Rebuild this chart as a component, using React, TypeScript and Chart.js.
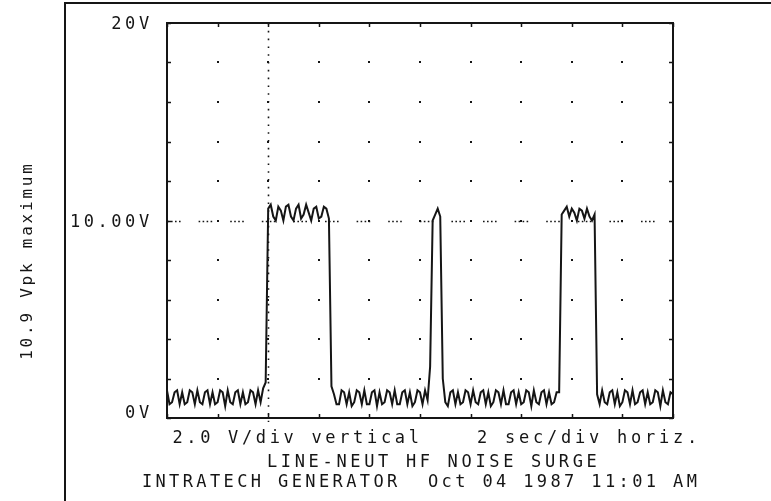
import React, { useEffect, useRef } from "react";
import { Chart, registerables } from "chart.js";

Chart.register(...registerables);

// ---- data -------------------------------------------------------------
const SAMPLE_STEP_SEC = 0.1; // one reading every 0.1 s, from 0 s to 20 s

// volts, one per sample (201 readings)
const volts: number[] = [
  // 0.0 – 3.9 s : noise floor
  1.4, 0.7, 0.8, 1.3, 1.4, 0.7, 1.3, 0.7, 0.8, 1.4,
  1.3, 0.7, 1.4, 0.8, 0.7, 1.3, 1.4, 0.7, 1.3, 0.7,
  0.8, 1.4, 1.3, 0.6, 1.4, 0.8, 0.7, 1.3, 1.4, 0.7,
  1.3, 0.7, 0.8, 1.4, 1.3, 0.7, 1.4, 0.8, 1.5, 1.8,
  // 4.0 – 6.4 s : first surge
  10.6, 10.8, 10.2, 10.0, 10.7, 10.5, 10.0, 10.7, 10.8, 10.2,
  10.0, 10.6, 10.8, 10.1, 10.3, 10.8, 10.4, 10.0, 10.6, 10.7,
  10.1, 10.2, 10.7, 10.6, 10.1,
  // 6.5 s
  1.6,
  // 6.6 – 10.3 s : noise floor
  1.2, 0.7, 0.7, 1.4, 1.3, 0.7, 1.3, 0.6, 0.8, 1.4,
  1.3, 0.7, 1.4, 0.7, 0.7, 1.3, 1.4, 0.6, 1.3, 0.7,
  0.8, 1.4, 1.3, 0.7, 1.4, 0.7, 0.7, 1.3, 1.4, 0.7,
  1.3, 0.6, 0.8, 1.4, 1.3, 0.7, 1.4, 0.9,
  // 10.4 – 10.9 s : short spike
  2.6, 10.0, 10.3, 10.6, 10.2, 2.0,
  // 11.0 – 15.4 s : noise floor
  0.8, 0.6, 1.3, 1.4, 0.7, 1.3, 0.7, 0.8, 1.4, 1.3,
  0.7, 1.4, 0.8, 0.7, 1.3, 1.4, 0.7, 1.3, 0.6, 0.8,
  1.4, 1.3, 0.7, 1.4, 0.7, 0.7, 1.3, 1.4, 0.7, 1.3,
  0.7, 0.8, 1.4, 1.3, 0.6, 1.4, 0.8, 0.7, 1.3, 1.4,
  0.7, 1.3, 0.7, 0.8, 1.3,
  // 15.5 s
  1.3,
  // 15.6 – 16.9 s : second surge
  10.3, 10.5, 10.7, 10.2, 10.6, 10.4, 10.0, 10.6, 10.5, 10.1,
  10.6, 10.2, 10.0, 10.3,
  // 17.0 s
  1.2,
  // 17.1 – 20.0 s : noise floor
  0.7, 1.4, 0.8, 0.7, 1.3, 1.4, 0.7, 1.3, 0.6, 0.8,
  1.4, 1.3, 0.7, 1.4, 0.7, 0.8, 1.3, 1.4, 0.7, 1.3,
  0.7, 0.8, 1.4, 1.3, 0.6, 1.4, 0.8, 0.7, 1.3, 1.2,
];

const timeDivisions = [0, 2, 4, 6, 8, 10, 12, 14, 16, 18, 20]; // seconds
const voltDivisions = [0, 2, 4, 6, 8, 10, 12, 14, 16, 18, 20]; // volts
const yTickLabels = [
  { value: 20, text: "20V" },
  { value: 10, text: "10.00V" },
  { value: 0, text: "0V" },
];
const triggerTime = 4; // dotted vertical marker
const referenceLevel = 10; // dotted horizontal marker

const sideTitle = "10.9 Vpk maximum";
const scaleNoteLeft = "2.0 V/div vertical";
const scaleNoteRight = "2 sec/div horiz.";
const titleLine1 = "LINE-NEUT HF NOISE SURGE";
const titleLine2 = "INTRATECH GENERATOR  Oct 04 1987 11:01 AM";

// ---- drawing ----------------------------------------------------------
const INK = "#151515";
const MONO = "'DejaVu Sans Mono', monospace";

function spaced(
  ctx: CanvasRenderingContext2D,
  text: string,
  firstCx: number,
  baseline: number,
  pitch: number
) {
  ctx.textAlign = "center";
  ctx.textBaseline = "alphabetic";
  for (let i = 0; i < text.length; i++) {
    if (text[i] !== " ") ctx.fillText(text[i], firstCx + i * pitch, baseline);
  }
}

const scopePlugin = {
  id: "scopePlugin",
  beforeDatasetsDraw(chart: any) {
    const { ctx, chartArea: a, scales } = chart;
    const x = scales.x;
    const y = scales.y;
    ctx.save();
    ctx.fillStyle = INK;
    for (const t of timeDivisions) {
      for (const v of voltDivisions) {
        const px = Math.round(x.getPixelForValue(t));
        const py = Math.round(y.getPixelForValue(v));
        ctx.fillRect(px - 1, py - 1, 2, 2);
      }
    }
    ctx.strokeStyle = INK;
    ctx.lineWidth = 1.6;
    // reference level dotted line
    const ry = Math.round(y.getPixelForValue(referenceLevel)) + 0.5;
    ctx.setLineDash([1.6, 2.4, 1.6, 2.4, 1.6, 2.4, 1.6, 18]);
    ctx.beginPath();
    ctx.moveTo(a.left, ry);
    ctx.lineTo(a.right, ry);
    ctx.stroke();
    // trigger dotted line
    const tx = Math.round(x.getPixelForValue(triggerTime)) + 0.5;
    ctx.setLineDash([1.6, 6.2]);
    ctx.beginPath();
    ctx.moveTo(tx, a.top);
    ctx.lineTo(tx, a.bottom + 4);
    ctx.stroke();
    ctx.restore();
  },
  afterDraw(chart: any) {
    const { ctx, chartArea: a, scales } = chart;
    const x = scales.x;
    const y = scales.y;
    ctx.save();
    ctx.strokeStyle = INK;
    ctx.fillStyle = INK;
    // plot frame
    ctx.lineWidth = 2;
    ctx.strokeRect(a.left, a.top, a.right - a.left, a.bottom - a.top);
    // inward tick marks
    ctx.lineWidth = 1.5;
    ctx.beginPath();
    for (const t of timeDivisions) {
      const px = Math.round(x.getPixelForValue(t)) + 0.5;
      ctx.moveTo(px, a.top);
      ctx.lineTo(px, a.top + 4);
      ctx.moveTo(px, a.bottom);
      ctx.lineTo(px, a.bottom - 4);
    }
    for (const v of voltDivisions) {
      const py = Math.round(y.getPixelForValue(v)) + 0.5;
      ctx.moveTo(a.left, py);
      ctx.lineTo(a.left + 4, py);
      ctx.moveTo(a.right, py);
      ctx.lineTo(a.right - 4, py);
    }
    ctx.stroke();
    // outer frame (left and top edges)
    ctx.lineWidth = 2;
    ctx.beginPath();
    ctx.moveTo(65, 501);
    ctx.lineTo(65, 3);
    ctx.lineTo(771, 3);
    ctx.stroke();

    // y labels
    ctx.font = `17px ${MONO}`;
    const pitch = 13.8;
    for (const lbl of yTickLabels) {
      const py = y.getPixelForValue(lbl.value);
      const off = lbl.value === 0 ? 0 : lbl.value === 20 ? 6 : 6.5;
      const first = 144 - (lbl.text.length - 1) * pitch;
      spaced(ctx, lbl.text, first, py + off, pitch);
    }
    // bottom notes
    spaced(ctx, scaleNoteLeft, 177.5, 443, 13.9);
    spaced(ctx, scaleNoteRight, 482, 443, 14);
    spaced(ctx, titleLine1, 272, 467, 13.9);
    spaced(ctx, titleLine2, 147, 487, 13.62);

    // rotated side title
    ctx.save();
    ctx.translate(26, 262);
    ctx.rotate(-Math.PI / 2);
    ctx.font = `16px ${MONO}`;
    const sp = 12.4;
    spaced(ctx, sideTitle, -((sideTitle.length - 1) * sp) / 2, 6, sp);
    ctx.restore();

    ctx.restore();
  },
};

export default function App() {
  const canvasRef = useRef<HTMLCanvasElement | null>(null);

  useEffect(() => {
    const canvas = canvasRef.current;
    if (!canvas) return;
    const points = volts.map((v, i) => ({ x: i * SAMPLE_STEP_SEC, y: v }));
    const chart = new Chart(canvas, {
      type: "line",
      data: {
        datasets: [
          {
            data: points,
            borderColor: INK,
            borderWidth: 2,
            pointRadius: 0,
            tension: 0,
            fill: false,
          },
        ],
      },
      options: {
        responsive: false,
        animation: false,
        layout: { padding: { left: 167, top: 23, right: 98, bottom: 83 } },
        scales: {
          x: { type: "linear", min: 0, max: 20, display: false },
          y: { type: "linear", min: 0, max: 20, display: false },
        },
        plugins: { legend: { display: false }, tooltip: { enabled: false } },
      },
      plugins: [scopePlugin],
    });
    return () => chart.destroy();
  }, []);

  return (
    <div
      style={{
        position: "fixed",
        left: 0,
        top: 0,
        width: 771,
        height: 501,
        background: "#ffffff",
      }}
    >
      <canvas ref={canvasRef} width={771} height={501} />
    </div>
  );
}
